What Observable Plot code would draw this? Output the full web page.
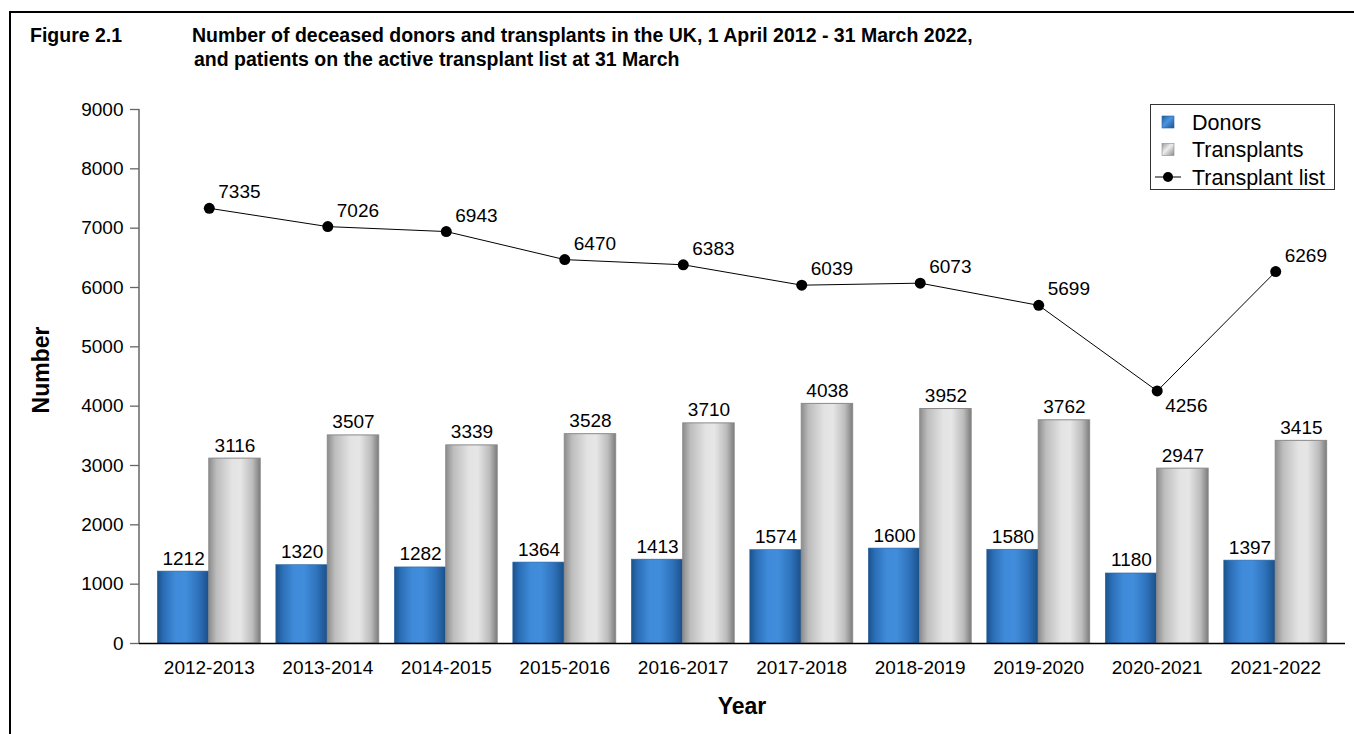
<!DOCTYPE html>
<html><head><meta charset="utf-8">
<script src="https://cdn.jsdelivr.net/npm/d3@7"></script>
<script src="https://cdn.jsdelivr.net/npm/@observablehq/plot@0.6"></script>
<style>
body{margin:0;background:#fff;font-family:"Liberation Sans",Arial,sans-serif;}
#wrap{position:relative;width:1354px;height:734px;overflow:hidden;}
#frame{position:absolute;left:9px;top:11px;width:1400px;height:800px;border-left:2px solid #000;border-top:2px solid #000;}
.t{position:absolute;font-weight:bold;font-size:19.5px;line-height:20px;white-space:nowrap;color:#000;}
#chart{position:absolute;left:0;top:0;}
#legend{position:absolute;left:1150px;top:104px;width:183px;height:84px;border:1px solid #333;background:#fff;}
</style></head>
<body>
<div id="wrap">
  <div id="frame"></div>
  <div id="chart"></div>
  <div class="t" style="left:30px;top:25px;">Figure 2.1</div>
  <div class="t" style="left:192px;top:25px;">Number of deceased donors and transplants in the UK, 1 April 2012 - 31 March 2022,</div>
  <div class="t" style="left:194px;top:49px;">and patients on the active transplant list at 31 March</div>
  <div class="t" id="ylab" style="left:41px;top:370px;font-size:23px;line-height:23px;transform:translate(-50%,-50%) rotate(-90deg);">Number</div>
  <div class="t" style="left:742px;top:706px;font-size:23px;line-height:23px;transform:translate(-50%,-50%);">Year</div>
  <div id="legend"></div>
</div>
<script>
const years = ["2012-2013","2013-2014","2014-2015","2015-2016","2016-2017","2017-2018","2018-2019","2019-2020","2020-2021","2021-2022"];
const donors = [1212,1320,1282,1364,1413,1574,1600,1580,1180,1397];
const transplants = [3116,3507,3339,3528,3710,4038,3952,3762,2947,3415];
const transplantList = [7335,7026,6943,6470,6383,6039,6073,5699,4256,6269];
const yTicks = [0,1000,2000,3000,4000,5000,6000,7000,8000,9000];
const seriesNames = ["Donors","Transplants","Transplant list"];
const labelBelowYears = ["2020-2021"];

const donorRows = years.map((y,i)=>({year:y, value:donors[i]}));
const transRows = years.map((y,i)=>({year:y, value:transplants[i]}));
const listRows = years.map((y,i)=>({year:y, value:transplantList[i]}));

const W = 1354, H = 734, mL = 139, mR = 9, mT = 109, mB = 91;
const pIn = 0.132, pOut = 0.155;
const bw = d3.scaleBand().domain(years).range([mL, W - mR]).paddingInner(pIn).paddingOuter(pOut).bandwidth();

const plot = Plot.plot({
  width: W, height: H,
  marginLeft: mL, marginRight: mR, marginTop: mT, marginBottom: mB,
  style: {fontFamily: "Liberation Sans, Arial, sans-serif", fontSize: "19px", color: "#000", background: "transparent", overflow: "visible"},
  x: {type: "band", domain: years, paddingInner: pIn, paddingOuter: pOut, round: false, label: null},
  y: {domain: [0, 9000], label: null},
  marks: [
    Plot.barY(donorRows, {x: "year", y: "value", fill: "url(#gBlue)", insetRight: bw/2, stroke: "#2a62a0", strokeWidth: 0.6}),
    Plot.barY(transRows, {x: "year", y: "value", fill: "url(#gGray)", insetLeft: bw/2, stroke: "#8a8a8a", strokeWidth: 1}),
    Plot.ruleY([0], {stroke: "#000", strokeWidth: 1.5}),
    Plot.axisX({tickSize: 0, tickPadding: 17, fontSize: 19, label: null}),
    Plot.axisY({ticks: yTicks, tickSize: 9, tickPadding: 7, fontSize: 19, stroke: "#666", strokeWidth: 1.3, label: null, tickFormat: d => String(d)}),
    Plot.text(donorRows, {x: "year", y: "value", text: d => String(d.value), dx: -bw/4, dy: -7, lineAnchor: "bottom", fontSize: 19, fill: "#000"}),
    Plot.text(transRows, {x: "year", y: "value", text: d => String(d.value), dx: bw/4, dy: -7, lineAnchor: "bottom", fontSize: 19, fill: "#000"}),
    Plot.line(listRows, {x: "year", y: "value", stroke: "#000", strokeWidth: 1}),
    Plot.dot(listRows, {x: "year", y: "value", r: 5.5, fill: "#000", stroke: "none"}),
    Plot.text(listRows.filter(d => !labelBelowYears.includes(d.year)), {x: "year", y: "value", text: d => String(d.value), dx: 9, dy: -16, textAnchor: "start", fontSize: 19, fill: "#000"}),
    Plot.text(listRows.filter(d => labelBelowYears.includes(d.year)), {x: "year", y: "value", text: d => String(d.value), dx: 8, dy: 15, textAnchor: "start", fontSize: 19, fill: "#000"})
  ]
});

const svg = d3.select(plot);
const defs = svg.insert("defs", ":first-child");
function grad(id, stops){
  const g = defs.append("linearGradient").attr("id", id).attr("x1", 0).attr("x2", 1).attr("y1", 0).attr("y2", 0);
  stops.forEach(([o,c]) => g.append("stop").attr("offset", o).attr("stop-color", c));
}
grad("gBlue", [[0,"#1b518b"],[0.12,"#2a6db5"],[0.35,"#3f8bd9"],[0.55,"#418ddb"],[0.8,"#2e72bb"],[1,"#1a4f88"]]);
grad("gGray", [[0,"#8c8c8c"],[0.15,"#bdbdbd"],[0.45,"#e3e3e3"],[0.62,"#e6e6e6"],[0.85,"#bcbcbc"],[1,"#7c7c7c"]]);

const ys = plot.scale("y");
svg.append("line").attr("x1", mL).attr("x2", mL).attr("y1", ys.apply(0)).attr("y2", ys.apply(9000)).attr("stroke", "#666").attr("stroke-width", 1.5);
document.getElementById("chart").appendChild(plot);

// legend
const lg = d3.select("#legend").append("svg").attr("width", 183).attr("height", 84);
const ldefs = lg.append("defs");
function lgrad(id, stops){
  const g = ldefs.append("linearGradient").attr("id", id).attr("x1", 0).attr("x2", 1).attr("y1", 0).attr("y2", 1);
  stops.forEach(([o,c]) => g.append("stop").attr("offset", o).attr("stop-color", c));
}
lgrad("lgBlue", [[0,"#1f5a98"],[0.45,"#4a95e0"],[1,"#1c5290"]]);
lgrad("lgGray", [[0,"#9a9a9a"],[0.45,"#eeeeee"],[1,"#8a8a8a"]]);
const rowsY = [17, 44.5, 72];
lg.append("rect").attr("x", 11).attr("y", rowsY[0]-6).attr("width", 12).attr("height", 12).attr("fill", "url(#lgBlue)").attr("stroke", "#2a62a0").attr("stroke-width", 0.6);
lg.append("rect").attr("x", 11).attr("y", rowsY[1]-6).attr("width", 12).attr("height", 12).attr("fill", "url(#lgGray)").attr("stroke", "#8a8a8a").attr("stroke-width", 0.6);
lg.append("line").attr("x1", 4).attr("x2", 30).attr("y1", rowsY[2]).attr("y2", rowsY[2]).attr("stroke", "#000").attr("stroke-width", 1);
lg.append("circle").attr("cx", 17).attr("cy", rowsY[2]).attr("r", 5).attr("fill", "#000");
seriesNames.forEach((n,i) => {
  lg.append("text").attr("x", 41).attr("y", rowsY[i]).attr("dy", "0.35em").attr("font-size", 21.5).attr("font-family", "Liberation Sans, Arial, sans-serif").attr("fill", "#000").text(n);
});
</script>
</body></html>
